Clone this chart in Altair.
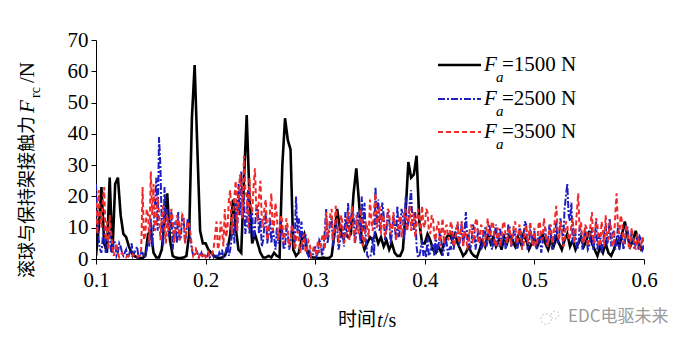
import altair as alt
import pandas as pd

# ---------------- data ----------------
T_START = 0.1
T_STEP = 0.0025      # main samples
T_HALF = 0.00125     # in-between samples for the noisy series
N_PTS = 201

fa1500 = [
    1, 10, 23, 5, 2, 26, 2, 24, 26, 14,
    8, 7, 4, 2, 1, 0.5, 0.3, 0.3, 1, 8,
    9, 2, 0.5, 0.5, 3, 12, 21, 6, 1, 0.5,
    0.3, 0.3, 0.5, 1, 8, 45, 62, 35, 9, 5,
    5, 3, 2, 1, 0.5, 0.3, 0.5, 1, 3, 8,
    19, 10, 3, 2, 25, 46, 20, 5, 8, 5,
    2, 0.5, 0.5, 1, 0.5, 2, 1, 0.5, 30, 45,
    38, 35, 3, 1, 2, 6, 8, 3, 1, 0.5,
    0.5, 0.3, 0.3, 0.5, 0.3, 0.3, 1, 8, 16, 10,
    7, 8, 7, 8, 21, 29, 18, 6, 3, 5,
    7, 6, 8, 5, 7, 4, 6, 3, 5, 2,
    1, 1, 3, 15, 31, 26, 27, 33, 12, 5,
    5, 8, 6, 3, 2, 4, 2, 5, 7, 8,
    6, 8, 5, 3, 1, 2, 4, 2, 1, 0.5,
    3, 6, 4, 8, 5, 7, 4, 6, 3, 7,
    5, 8, 6, 4, 7, 5, 8, 6, 3, 5,
    7, 4, 6, 8, 5, 3, 6, 4, 7, 5,
    3, 6, 8, 4, 6, 3, 5, 7, 4, 6,
    9, 5, 3, 1, 4, 2, 5, 2, 1, 3,
    6, 4, 8, 12, 7, 4, 6, 9, 5, 3,
    4,
]

fa2500 = [
    24, 6, 2, 10, 4, 8, 3, 5, 2, 4,
    1, 3, 1, 5, 2, 4, 1, 2, 1, 6,
    13, 10, 26, 39, 11, 23, 16, 10, 3, 12,
    15, 7, 13, 9, 11, 3, 1, 2, 1, 0.5,
    1, 2, 1, 0.5, 1, 2, 3, 1, 5, 3,
    12, 18, 24, 28, 20, 13, 8, 15, 10, 17,
    13, 6, 15, 8, 5, 7, 10, 6, 9, 4,
    8, 5, 9, 20, 13, 12, 5, 2, 3, 1,
    4, 2, 5, 3, 16, 8, 13, 7, 10, 5,
    9, 15, 18, 11, 14, 8, 12, 20, 18, 1,
    0.5, 7, 23, 19, 12, 14, 9, 13, 8, 11,
    17, 10, 14, 20, 12, 22, 9, 4, 1, 6,
    3, 7, 2, 5, 8, 4, 6, 3, 5, 4,
    9, 6, 11, 7, 4, 15, 8, 5, 10, 6,
    8, 4, 10, 6, 9, 5, 11, 7, 4, 8,
    6, 10, 5, 8, 4, 9, 7, 11, 5, 8,
    9, 3, 7, 5, 10, 6, 8, 4, 12, 7,
    10, 16, 24, 12, 5, 8, 4, 9, 6, 7,
    4, 10, 6, 3, 8, 5, 11, 7, 4, 9,
    6, 3, 8, 5, 10, 4, 7, 5, 3, 6,
    4,
]
fa2500_mid = [
    12, 3, 7, 2, 9, 2, 6, 1, 5, 2,
    2, 0.5, 3, 1, 3, 0.5, 2, 0.5, 3, 4,
    4, 17, 9, 30, 4, 12, 7, 15, 9, 5,
    6, 14, 5, 13, 6, 1, 3, 0.5, 2, 1,
    0.5, 0.5, 2, 1, 0.5, 1, 0.5, 3, 1, 7,
    5, 9, 14, 17, 8, 22, 14, 6, 16, 8,
    4, 11, 5, 13, 10, 3, 5, 12, 3, 10,
    3, 11, 4, 9, 6, 3, 8, 1, 0.5, 2,
    1, 6, 1, 9, 5, 12, 4, 12, 3, 11,
    4, 7, 9, 17, 5, 15, 5, 9, 6, 0.5,
    2, 1, 11, 9, 18, 6, 15, 5, 14, 6,
    7, 16, 6, 9, 18, 11, 15, 0.5, 3, 1,
    0.5, 1, 4, 1, 2, 9, 1, 7, 1, 3,
    3, 10, 4, 12, 9, 6, 3, 11, 3, 9,
    3, 9, 4, 11, 3, 8, 4, 10, 7, 3,
    11, 4, 9, 3, 10, 4, 12, 3, 9, 4,
    4, 8, 2, 9, 4, 11, 3, 8, 5, 13,
    5, 20, 14, 18, 9, 3, 10, 3, 10, 3,
    8, 3, 12, 7, 2, 9, 4, 13, 8, 3,
    10, 7, 3, 11, 6, 9, 3, 8, 7, 3,
]

fa3500 = [
    18, 22, 10, 23, 12, 14, 4, 3, 2, 1,
    1, 0.5, 1, 0.5, 1, 0.5, 1, 23, 8, 14,
    28, 24, 12, 15, 13, 10, 14, 12, 13, 9,
    12, 10, 13, 9, 11, 4, 2, 1, 2, 1,
    0.5, 2, 1, 4, 12, 5, 9, 16, 10, 22,
    14, 25, 18, 24, 33, 20, 26, 15, 29, 12,
    25, 10, 19, 8, 21, 11, 14, 9, 12, 8,
    10, 6, 9, 5, 7, 4, 8, 3, 5, 2,
    3, 6, 4, 8, 15, 10, 16, 9, 13, 8,
    11, 7, 15, 12, 9, 14, 8, 13, 6, 10,
    19, 9, 21, 12, 8, 13, 10, 15, 9, 12,
    8, 14, 10, 16, 12, 9, 15, 11, 13, 17,
    10, 15, 8, 13, 6, 12, 9, 5, 11, 7,
    10, 5, 12, 8, 4, 9, 6, 11, 7, 13,
    6, 10, 5, 13, 8, 11, 4, 9, 7, 12,
    5, 10, 7, 12, 6, 9, 4, 11, 8, 6,
    10, 5, 12, 7, 9, 4, 11, 8, 17, 6,
    9, 5, 11, 7, 13, 8, 21, 12, 5, 10,
    7, 15, 6, 11, 4, 9, 14, 6, 10, 5,
    21, 8, 12, 6, 9, 4, 7, 3, 6, 5,
    4,
]
fa3500_mid = [
    8, 13, 19, 6, 3, 9, 1, 5, 0.5, 2,
    0.5, 1, 0.5, 1.5, 0.5, 1, 3, 6, 16, 5,
    14, 9, 20, 6, 17, 5, 9, 16, 5, 14,
    6, 14, 5, 12, 8, 1, 3, 0.5, 1, 2,
    1, 0.5, 2, 8, 3, 12, 4, 7, 19, 8,
    20, 9, 27, 13, 22, 10, 17, 23, 16, 20,
    13, 17, 6, 15, 9, 18, 6, 14, 5, 13,
    4, 11, 3, 9, 2, 7, 2, 6, 1, 4,
    1, 2, 7, 3, 7, 14, 6, 17, 5, 14,
    5, 12, 6, 17, 5, 10, 16, 4, 12, 7,
    12, 16, 10, 17, 14, 7, 16, 8, 15, 6,
    12, 7, 15, 9, 17, 13, 7, 16, 8, 11,
    16, 9, 14, 7, 11, 4, 13, 10, 6, 12,
    4, 9, 5, 12, 8, 3, 10, 5, 12, 5,
    11, 4, 10, 6, 12, 5, 10, 4, 11, 7,
    9, 4, 11, 5, 11, 3, 9, 5, 12, 4,
    4, 11, 6, 13, 5, 10, 5, 13, 9, 12,
    4, 12, 6, 11, 5, 15, 9, 6, 11, 4,
    11, 5, 13, 5, 12, 4, 7, 12, 4, 14,
    10, 14, 5, 11, 3, 10, 5, 8, 3, 7,
]

x_ticks = [0.1, 0.2, 0.3, 0.4, 0.5, 0.6]
y_ticks = [0, 10, 20, 30, 40, 50, 60, 70]
legend_values = ["=1500 N", "=2500 N", "=3500 N"]
series_colors = ["#000000", "#1f1fbf", "#ee2b2b"]
series_dashes = [[1, 0], [7, 2, 2, 2], [5, 3]]
series_widths = [2.6, 2.0, 2.0]

y_title_cn = "滚球与保持架接触力"
x_title_cn = "时间"
watermark = "EDC电驱未来"

assert len(fa1500) == N_PTS and len(fa2500) == N_PTS and len(fa3500) == N_PTS
assert len(fa2500_mid) == N_PTS - 1 and len(fa3500_mid) == N_PTS - 1
t_main = [round(T_START + T_STEP * i, 5) for i in range(N_PTS)]
t_mid = [round(T_START + T_STEP * i + T_HALF, 5) for i in range(N_PTS - 1)]


def frame(main, mid=None):
    df = pd.DataFrame({"t": t_main, "v": main})
    if mid is not None:
        df = pd.concat([df, pd.DataFrame({"t": t_mid, "v": mid})])
    return df.sort_values("t").reset_index(drop=True)


frames = [frame(fa1500), frame(fa2500, fa2500_mid), frame(fa3500, fa3500_mid)]

# ---------------- chart ----------------
W, H = 548, 219
SERIF = "Liberation Serif"
CJK = "Noto Sans CJK SC"

xscale = alt.Scale(domain=[0.1, 0.6], nice=False, zero=False)
yscale = alt.Scale(domain=[0, 70], nice=False, zero=True)

xaxis = alt.Axis(values=x_ticks, format=".1f", title=None, grid=False,
                 tickSize=5, tickColor="black", domainColor="black",
                 labelFont=SERIF, labelFontSize=21, labelColor="black",
                 labelPadding=5, labelFlush=False)
yaxis = alt.Axis(values=y_ticks, format="d", title=None, grid=False,
                 tickSize=5, tickColor="black", domainColor="black",
                 labelFont=SERIF, labelFontSize=21, labelColor="black",
                 labelPadding=3)

layers = []
for df, col, dash, sw in zip(frames, series_colors, series_dashes,
                             series_widths):
    layers.append(
        alt.Chart(df).mark_line(color=col, strokeDash=dash, strokeWidth=sw,
                                clip=True)
        .encode(x=alt.X("t:Q", scale=xscale, axis=xaxis),
                y=alt.Y("v:Q", scale=yscale, axis=yaxis),
                order="t:Q")
    )

one = pd.DataFrame({"k": [0]})


def txt(text, x, y, size, font=SERIF, style="normal", angle=0,
        align="left", baseline="middle", color="black"):
    kw = dict(text=text, fontSize=size, font=font, fontStyle=style,
              align=align, baseline=baseline, color=color)
    if angle:
        kw["angle"] = angle
    return alt.Chart(one).mark_text(**kw).encode(x=alt.value(x),
                                                 y=alt.value(y))


# legend (manual, inside the plot at top right)
row_y = [25, 59, 92]
for i in range(3):
    ry = row_y[i]
    layers.append(
        alt.Chart(one).mark_rule(color=series_colors[i],
                                 strokeDash=series_dashes[i],
                                 strokeWidth=series_widths[i])
        .encode(x=alt.value(342), x2=alt.value(385), y=alt.value(ry))
    )
    layers.append(txt("F", 388, ry, 21, style="italic"))
    layers.append(txt("a", 400, ry + 12, 15, style="italic"))
    layers.append(txt(legend_values[i], 406, ry, 21))

# y-axis title (rotated, pieces)
layers.append(txt(y_title_cn, -68, 238, 18, font=CJK, angle=270))
layers.append(txt("F", -68, 73, 21, style="italic", angle=270))
layers.append(txt("rc", -60, 58, 14, angle=270))
layers.append(txt("/N", -68, 43, 21, angle=270))

# x-axis title (pieces)
layers.append(txt(x_title_cn, 242, 280, 19, font=CJK))
layers.append(txt("t", 281, 281, 20, style="italic"))
layers.append(txt("/s", 287, 281, 20))

# watermark
layers.append(
    alt.Chart(one).mark_point(shape="circle", size=110, color="#b0b0b0",
                              strokeWidth=1, strokeDash=[2, 2], filled=False)
    .encode(x=alt.value(450), y=alt.value(279))
)
layers.append(
    alt.Chart(one).mark_point(shape="circle", size=60, color="#b0b0b0",
                              strokeWidth=1, strokeDash=[2, 2], filled=False)
    .encode(x=alt.value(459), y=alt.value(275))
)
layers.append(txt(watermark, 472, 277, 17, font=CJK, color="#9a9a9a"))

chart = (
    alt.layer(*layers)
    .properties(width=W, height=H,
                autosize=alt.AutoSizeParams(type="none"),
                padding={"left": 88, "top": 32, "right": 35, "bottom": 80},
                background="white")
    .configure_view(stroke=None)
)

chart.save("out.html", embed_options={"renderer": "svg", "actions": False})
